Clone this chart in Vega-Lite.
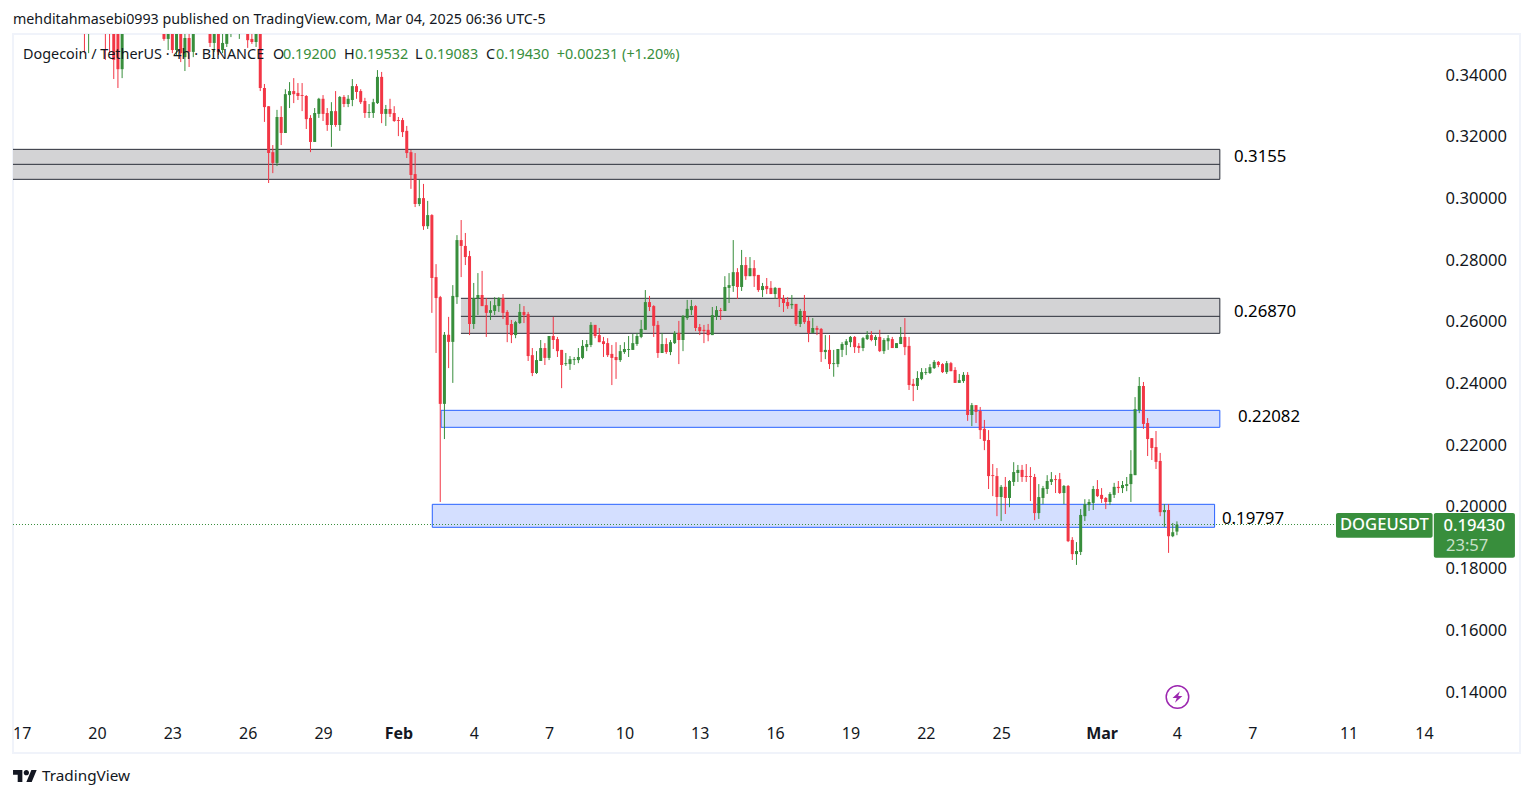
{"$schema":"https://vega.github.io/schema/vega-lite/v6.json","autosize":{"type":"none"},"padding":{"left":13,"top":34,"right":13,"bottom":45},"width":1507,"height":719,"background":"#ffffff","view":{"stroke":"#f0f3fa","strokeWidth":2},
"config":{"axisY":{"orient":"right","offset":-75,"domain":false,"ticks":false,"grid":false,"labelPadding":0,"labelFont":"Noto Sans","labelFontSize":16.6,"labelColor":"#131722","labelAlign":"left","labelBaseline":"middle","format":".5f","title":null}},
"datasets":{"candles":[
{"t":"2025-01-19T12:00Z","o":0.359,"h":0.36,"l":0.347,"c":0.356},
{"t":"2025-01-19T16:00Z","o":0.356,"h":0.36,"l":0.3471,"c":0.359},
{"t":"2025-01-20T08:00Z","o":0.358,"h":0.36,"l":0.3449,"c":0.355},
{"t":"2025-01-20T12:00Z","o":0.358,"h":0.36,"l":0.3471,"c":0.355},
{"t":"2025-01-20T16:00Z","o":0.355,"h":0.358,"l":0.3387,"c":0.3449},
{"t":"2025-01-20T20:00Z","o":0.355,"h":0.356,"l":0.3358,"c":0.3419},
{"t":"2025-01-21T00:00Z","o":0.3419,"h":0.357,"l":0.339,"c":0.355},
{"t":"2025-01-22T16:00Z","o":0.356,"h":0.357,"l":0.3511,"c":0.3517},
{"t":"2025-01-22T20:00Z","o":0.3517,"h":0.357,"l":0.3481,"c":0.356},
{"t":"2025-01-23T00:00Z","o":0.356,"h":0.357,"l":0.3471,"c":0.3481},
{"t":"2025-01-23T04:00Z","o":0.3481,"h":0.357,"l":0.3465,"c":0.356},
{"t":"2025-01-23T08:00Z","o":0.356,"h":0.357,"l":0.3442,"c":0.3471},
{"t":"2025-01-23T12:00Z","o":0.3458,"h":0.356,"l":0.3413,"c":0.352},
{"t":"2025-01-23T16:00Z","o":0.352,"h":0.355,"l":0.3426,"c":0.3475},
{"t":"2025-01-23T20:00Z","o":0.3475,"h":0.357,"l":0.3458,"c":0.356},
{"t":"2025-01-24T12:00Z","o":0.356,"h":0.357,"l":0.3491,"c":0.3504},
{"t":"2025-01-24T16:00Z","o":0.3504,"h":0.357,"l":0.3475,"c":0.356},
{"t":"2025-01-24T20:00Z","o":0.356,"h":0.357,"l":0.3465,"c":0.3475},
{"t":"2025-01-25T00:00Z","o":0.3481,"h":0.354,"l":0.3471,"c":0.3504},
{"t":"2025-01-25T04:00Z","o":0.3501,"h":0.357,"l":0.3491,"c":0.356},
{"t":"2025-01-25T08:00Z","o":0.355,"h":0.357,"l":0.3523,"c":0.356},
{"t":"2025-01-25T16:00Z","o":0.355,"h":0.357,"l":0.3517,"c":0.356},
{"t":"2025-01-26T00:00Z","o":0.356,"h":0.357,"l":0.3488,"c":0.3513},
{"t":"2025-01-26T04:00Z","o":0.3517,"h":0.354,"l":0.3501,"c":0.3507},
{"t":"2025-01-26T08:00Z","o":0.3507,"h":0.357,"l":0.3491,"c":0.356},
{"t":"2025-01-26T12:00Z","o":0.356,"h":0.357,"l":0.3348,"c":0.3358},
{"t":"2025-01-26T16:00Z","o":0.3358,"h":0.3371,"l":0.3248,"c":0.3296},
{"t":"2025-01-26T20:00Z","o":0.3299,"h":0.3299,"l":0.305,"c":0.3147},
{"t":"2025-01-27T00:00Z","o":0.315,"h":0.3173,"l":0.3082,"c":0.3115},
{"t":"2025-01-27T04:00Z","o":0.3115,"h":0.3287,"l":0.3105,"c":0.3264},
{"t":"2025-01-27T08:00Z","o":0.3264,"h":0.3299,"l":0.3173,"c":0.3212},
{"t":"2025-01-27T12:00Z","o":0.3212,"h":0.3354,"l":0.3212,"c":0.3338},
{"t":"2025-01-27T16:00Z","o":0.3335,"h":0.3377,"l":0.3293,"c":0.3348},
{"t":"2025-01-27T20:00Z","o":0.3348,"h":0.339,"l":0.3309,"c":0.3338},
{"t":"2025-01-28T00:00Z","o":0.3342,"h":0.3374,"l":0.3319,"c":0.3332},
{"t":"2025-01-28T04:00Z","o":0.3335,"h":0.3374,"l":0.3283,"c":0.3332},
{"t":"2025-01-28T08:00Z","o":0.3332,"h":0.3335,"l":0.3225,"c":0.3257},
{"t":"2025-01-28T12:00Z","o":0.3261,"h":0.327,"l":0.315,"c":0.3183},
{"t":"2025-01-28T16:00Z","o":0.3183,"h":0.3293,"l":0.3183,"c":0.3277},
{"t":"2025-01-28T20:00Z","o":0.3274,"h":0.3326,"l":0.3261,"c":0.3323},
{"t":"2025-01-29T00:00Z","o":0.3323,"h":0.3335,"l":0.3251,"c":0.3274},
{"t":"2025-01-29T04:00Z","o":0.3277,"h":0.3293,"l":0.3219,"c":0.3238},
{"t":"2025-01-29T08:00Z","o":0.3238,"h":0.3312,"l":0.3167,"c":0.3283},
{"t":"2025-01-29T12:00Z","o":0.3283,"h":0.3348,"l":0.3232,"c":0.3238},
{"t":"2025-01-29T16:00Z","o":0.3238,"h":0.3332,"l":0.3219,"c":0.3329},
{"t":"2025-01-29T20:00Z","o":0.3329,"h":0.3335,"l":0.3296,"c":0.3306},
{"t":"2025-01-30T00:00Z","o":0.3306,"h":0.3335,"l":0.3296,"c":0.3323},
{"t":"2025-01-30T04:00Z","o":0.3319,"h":0.3387,"l":0.3299,"c":0.3364},
{"t":"2025-01-30T08:00Z","o":0.3364,"h":0.3371,"l":0.3323,"c":0.3345},
{"t":"2025-01-30T12:00Z","o":0.3348,"h":0.3354,"l":0.3306,"c":0.3312},
{"t":"2025-01-30T16:00Z","o":0.3316,"h":0.3326,"l":0.3261,"c":0.3277},
{"t":"2025-01-30T20:00Z","o":0.3277,"h":0.3306,"l":0.3261,"c":0.328},
{"t":"2025-01-31T00:00Z","o":0.3277,"h":0.3323,"l":0.3261,"c":0.3312},
{"t":"2025-01-31T04:00Z","o":0.3309,"h":0.3416,"l":0.3306,"c":0.3394},
{"t":"2025-01-31T08:00Z","o":0.3394,"h":0.341,"l":0.3244,"c":0.3274},
{"t":"2025-01-31T12:00Z","o":0.3274,"h":0.3303,"l":0.3235,"c":0.329},
{"t":"2025-01-31T16:00Z","o":0.329,"h":0.3323,"l":0.3264,"c":0.3274},
{"t":"2025-01-31T20:00Z","o":0.3277,"h":0.3299,"l":0.3248,"c":0.3251},
{"t":"2025-02-01T00:00Z","o":0.3254,"h":0.3264,"l":0.3202,"c":0.3251},
{"t":"2025-02-01T04:00Z","o":0.3254,"h":0.3261,"l":0.3199,"c":0.3215},
{"t":"2025-02-01T08:00Z","o":0.3219,"h":0.3235,"l":0.3131,"c":0.3147},
{"t":"2025-02-01T12:00Z","o":0.315,"h":0.3157,"l":0.3031,"c":0.3076},
{"t":"2025-02-01T16:00Z","o":0.3079,"h":0.3147,"l":0.2972,"c":0.2982},
{"t":"2025-02-01T20:00Z","o":0.2982,"h":0.306,"l":0.2975,"c":0.3001},
{"t":"2025-02-02T00:00Z","o":0.3001,"h":0.3047,"l":0.2898,"c":0.291},
{"t":"2025-02-02T04:00Z","o":0.291,"h":0.2992,"l":0.2901,"c":0.2946},
{"t":"2025-02-02T08:00Z","o":0.2946,"h":0.2949,"l":0.2629,"c":0.2742},
{"t":"2025-02-02T12:00Z","o":0.2745,"h":0.2787,"l":0.2499,"c":0.2677},
{"t":"2025-02-02T16:00Z","o":0.268,"h":0.2684,"l":0.2016,"c":0.2334},
{"t":"2025-02-02T20:00Z","o":0.2334,"h":0.2567,"l":0.222,"c":0.2558},
{"t":"2025-02-03T00:00Z","o":0.2558,"h":0.2616,"l":0.245,"c":0.2535},
{"t":"2025-02-03T04:00Z","o":0.2535,"h":0.2719,"l":0.2402,"c":0.2684},
{"t":"2025-02-03T08:00Z","o":0.268,"h":0.2881,"l":0.2658,"c":0.2865},
{"t":"2025-02-03T12:00Z","o":0.2865,"h":0.293,"l":0.2745,"c":0.2846},
{"t":"2025-02-03T16:00Z","o":0.2846,"h":0.2888,"l":0.2784,"c":0.281},
{"t":"2025-02-03T20:00Z","o":0.2813,"h":0.283,"l":0.2557,"c":0.2593},
{"t":"2025-02-04T00:00Z","o":0.2593,"h":0.2726,"l":0.2577,"c":0.2677},
{"t":"2025-02-04T04:00Z","o":0.2677,"h":0.2758,"l":0.2622,"c":0.2687},
{"t":"2025-02-04T08:00Z","o":0.2687,"h":0.2765,"l":0.2651,"c":0.2651},
{"t":"2025-02-04T12:00Z","o":0.2654,"h":0.2677,"l":0.2551,"c":0.2629},
{"t":"2025-02-04T16:00Z","o":0.2629,"h":0.2667,"l":0.2606,"c":0.2638},
{"t":"2025-02-04T20:00Z","o":0.2635,"h":0.268,"l":0.2622,"c":0.2654},
{"t":"2025-02-05T00:00Z","o":0.2651,"h":0.268,"l":0.2632,"c":0.2677},
{"t":"2025-02-05T04:00Z","o":0.2677,"h":0.269,"l":0.2609,"c":0.2629},
{"t":"2025-02-05T08:00Z","o":0.2632,"h":0.2638,"l":0.2534,"c":0.259},
{"t":"2025-02-05T12:00Z","o":0.2593,"h":0.2606,"l":0.2531,"c":0.2557},
{"t":"2025-02-05T16:00Z","o":0.2557,"h":0.2603,"l":0.2547,"c":0.2599},
{"t":"2025-02-05T20:00Z","o":0.2596,"h":0.2658,"l":0.2593,"c":0.2632},
{"t":"2025-02-06T00:00Z","o":0.2632,"h":0.2651,"l":0.2596,"c":0.2622},
{"t":"2025-02-06T04:00Z","o":0.2625,"h":0.2632,"l":0.2473,"c":0.2489},
{"t":"2025-02-06T08:00Z","o":0.2492,"h":0.2515,"l":0.2424,"c":0.2434},
{"t":"2025-02-06T12:00Z","o":0.2434,"h":0.2505,"l":0.2431,"c":0.2476},
{"t":"2025-02-06T16:00Z","o":0.2473,"h":0.2541,"l":0.2473,"c":0.2515},
{"t":"2025-02-06T20:00Z","o":0.2515,"h":0.2531,"l":0.246,"c":0.2483},
{"t":"2025-02-07T00:00Z","o":0.2483,"h":0.2554,"l":0.2476,"c":0.2554},
{"t":"2025-02-07T04:00Z","o":0.2554,"h":0.2616,"l":0.2512,"c":0.2541},
{"t":"2025-02-07T08:00Z","o":0.2544,"h":0.2551,"l":0.2486,"c":0.2505},
{"t":"2025-02-07T12:00Z","o":0.2509,"h":0.2509,"l":0.2385,"c":0.246},
{"t":"2025-02-07T16:00Z","o":0.2463,"h":0.2499,"l":0.2457,"c":0.2466},
{"t":"2025-02-07T20:00Z","o":0.2463,"h":0.2489,"l":0.2444,"c":0.2479},
{"t":"2025-02-08T00:00Z","o":0.2476,"h":0.2486,"l":0.246,"c":0.2479},
{"t":"2025-02-08T04:00Z","o":0.2476,"h":0.2515,"l":0.2466,"c":0.2486},
{"t":"2025-02-08T08:00Z","o":0.2483,"h":0.2541,"l":0.2479,"c":0.2522},
{"t":"2025-02-08T12:00Z","o":0.2518,"h":0.2541,"l":0.2505,"c":0.2528},
{"t":"2025-02-08T16:00Z","o":0.2525,"h":0.2599,"l":0.2518,"c":0.259},
{"t":"2025-02-08T20:00Z","o":0.259,"h":0.259,"l":0.2547,"c":0.2554},
{"t":"2025-02-09T00:00Z","o":0.2557,"h":0.258,"l":0.2534,"c":0.2534},
{"t":"2025-02-09T04:00Z","o":0.2537,"h":0.2551,"l":0.2486,"c":0.2528},
{"t":"2025-02-09T08:00Z","o":0.2531,"h":0.2547,"l":0.2486,"c":0.2492},
{"t":"2025-02-09T12:00Z","o":0.2496,"h":0.2525,"l":0.2395,"c":0.2483},
{"t":"2025-02-09T16:00Z","o":0.2486,"h":0.2534,"l":0.2415,"c":0.2476},
{"t":"2025-02-09T20:00Z","o":0.2476,"h":0.2525,"l":0.247,"c":0.2505},
{"t":"2025-02-10T00:00Z","o":0.2502,"h":0.2534,"l":0.2496,"c":0.2512},
{"t":"2025-02-10T04:00Z","o":0.2509,"h":0.2554,"l":0.2486,"c":0.2512},
{"t":"2025-02-10T08:00Z","o":0.2509,"h":0.2561,"l":0.2509,"c":0.2531},
{"t":"2025-02-10T12:00Z","o":0.2528,"h":0.2564,"l":0.2522,"c":0.2554},
{"t":"2025-02-10T16:00Z","o":0.2551,"h":0.2606,"l":0.2547,"c":0.2577},
{"t":"2025-02-10T20:00Z","o":0.2574,"h":0.2703,"l":0.2574,"c":0.2664},
{"t":"2025-02-11T00:00Z","o":0.2664,"h":0.2684,"l":0.2635,"c":0.2648},
{"t":"2025-02-11T04:00Z","o":0.2651,"h":0.2654,"l":0.2551,"c":0.2587},
{"t":"2025-02-11T08:00Z","o":0.259,"h":0.2603,"l":0.2483,"c":0.2499},
{"t":"2025-02-11T12:00Z","o":0.2499,"h":0.2564,"l":0.2499,"c":0.2528},
{"t":"2025-02-11T16:00Z","o":0.2528,"h":0.2547,"l":0.2496,"c":0.2502},
{"t":"2025-02-11T20:00Z","o":0.2502,"h":0.2541,"l":0.2492,"c":0.2534},
{"t":"2025-02-12T00:00Z","o":0.2531,"h":0.257,"l":0.2528,"c":0.2564},
{"t":"2025-02-12T04:00Z","o":0.2564,"h":0.2603,"l":0.2463,"c":0.2541},
{"t":"2025-02-12T08:00Z","o":0.2541,"h":0.2622,"l":0.2505,"c":0.2619},
{"t":"2025-02-12T12:00Z","o":0.2612,"h":0.2671,"l":0.2606,"c":0.2642},
{"t":"2025-02-12T16:00Z","o":0.2638,"h":0.2671,"l":0.2622,"c":0.2651},
{"t":"2025-02-12T20:00Z","o":0.2651,"h":0.2654,"l":0.257,"c":0.258},
{"t":"2025-02-13T00:00Z","o":0.2583,"h":0.2593,"l":0.2557,"c":0.257},
{"t":"2025-02-13T04:00Z","o":0.2574,"h":0.259,"l":0.2531,"c":0.257},
{"t":"2025-02-13T08:00Z","o":0.2574,"h":0.2593,"l":0.2537,"c":0.2557},
{"t":"2025-02-13T12:00Z","o":0.2557,"h":0.2648,"l":0.2557,"c":0.2622},
{"t":"2025-02-13T16:00Z","o":0.2616,"h":0.2651,"l":0.2606,"c":0.2638},
{"t":"2025-02-13T20:00Z","o":0.2638,"h":0.2645,"l":0.2606,"c":0.2635},
{"t":"2025-02-14T00:00Z","o":0.2635,"h":0.2748,"l":0.2635,"c":0.2713},
{"t":"2025-02-14T04:00Z","o":0.271,"h":0.2758,"l":0.2661,"c":0.2719},
{"t":"2025-02-14T08:00Z","o":0.2716,"h":0.2865,"l":0.2697,"c":0.2761},
{"t":"2025-02-14T12:00Z","o":0.2761,"h":0.2774,"l":0.2674,"c":0.2713},
{"t":"2025-02-14T16:00Z","o":0.2713,"h":0.2833,"l":0.27,"c":0.2784},
{"t":"2025-02-14T20:00Z","o":0.2784,"h":0.281,"l":0.2736,"c":0.2748},
{"t":"2025-02-15T00:00Z","o":0.2748,"h":0.281,"l":0.2748,"c":0.2774},
{"t":"2025-02-15T04:00Z","o":0.2774,"h":0.28,"l":0.2713,"c":0.2748},
{"t":"2025-02-15T08:00Z","o":0.2752,"h":0.2752,"l":0.2697,"c":0.2703},
{"t":"2025-02-15T12:00Z","o":0.2703,"h":0.2726,"l":0.268,"c":0.2716},
{"t":"2025-02-15T16:00Z","o":0.2716,"h":0.2742,"l":0.269,"c":0.2706},
{"t":"2025-02-15T20:00Z","o":0.271,"h":0.2732,"l":0.269,"c":0.269},
{"t":"2025-02-16T00:00Z","o":0.269,"h":0.2713,"l":0.2674,"c":0.271},
{"t":"2025-02-16T04:00Z","o":0.271,"h":0.271,"l":0.2648,"c":0.2674},
{"t":"2025-02-16T08:00Z","o":0.2677,"h":0.2687,"l":0.2632,"c":0.2661},
{"t":"2025-02-16T12:00Z","o":0.2664,"h":0.268,"l":0.2642,"c":0.2651},
{"t":"2025-02-16T16:00Z","o":0.2654,"h":0.2687,"l":0.2642,"c":0.2658},
{"t":"2025-02-16T20:00Z","o":0.2658,"h":0.2658,"l":0.2587,"c":0.2593},
{"t":"2025-02-17T00:00Z","o":0.2593,"h":0.2642,"l":0.2583,"c":0.2635},
{"t":"2025-02-17T04:00Z","o":0.2635,"h":0.2687,"l":0.2593,"c":0.2599},
{"t":"2025-02-17T08:00Z","o":0.2603,"h":0.2616,"l":0.2534,"c":0.2564},
{"t":"2025-02-17T12:00Z","o":0.2564,"h":0.2612,"l":0.2564,"c":0.258},
{"t":"2025-02-17T16:00Z","o":0.258,"h":0.2587,"l":0.2557,"c":0.2574},
{"t":"2025-02-17T20:00Z","o":0.2577,"h":0.258,"l":0.247,"c":0.2502},
{"t":"2025-02-18T00:00Z","o":0.2502,"h":0.2557,"l":0.2479,"c":0.2509},
{"t":"2025-02-18T04:00Z","o":0.2509,"h":0.2557,"l":0.2447,"c":0.2463},
{"t":"2025-02-18T08:00Z","o":0.2463,"h":0.2509,"l":0.2422,"c":0.2466},
{"t":"2025-02-18T12:00Z","o":0.2463,"h":0.2512,"l":0.2453,"c":0.2512},
{"t":"2025-02-18T16:00Z","o":0.2509,"h":0.2534,"l":0.2486,"c":0.2528},
{"t":"2025-02-18T20:00Z","o":0.2525,"h":0.2544,"l":0.2492,"c":0.2537},
{"t":"2025-02-19T00:00Z","o":0.2534,"h":0.2554,"l":0.2518,"c":0.2551},
{"t":"2025-02-19T04:00Z","o":0.2551,"h":0.2554,"l":0.2499,"c":0.2518},
{"t":"2025-02-19T08:00Z","o":0.2522,"h":0.2531,"l":0.2499,"c":0.2515},
{"t":"2025-02-19T12:00Z","o":0.2515,"h":0.2551,"l":0.2505,"c":0.2547},
{"t":"2025-02-19T16:00Z","o":0.2544,"h":0.257,"l":0.2541,"c":0.2557},
{"t":"2025-02-19T20:00Z","o":0.2557,"h":0.257,"l":0.2537,"c":0.2541},
{"t":"2025-02-20T00:00Z","o":0.2541,"h":0.2557,"l":0.2522,"c":0.2551},
{"t":"2025-02-20T04:00Z","o":0.2551,"h":0.2574,"l":0.2502,"c":0.2505},
{"t":"2025-02-20T08:00Z","o":0.2505,"h":0.2547,"l":0.2496,"c":0.2541},
{"t":"2025-02-20T12:00Z","o":0.2537,"h":0.2557,"l":0.2509,"c":0.2547},
{"t":"2025-02-20T16:00Z","o":0.2544,"h":0.2551,"l":0.2515,"c":0.2515},
{"t":"2025-02-20T20:00Z","o":0.2515,"h":0.2531,"l":0.2515,"c":0.2531},
{"t":"2025-02-21T00:00Z","o":0.2528,"h":0.2583,"l":0.2528,"c":0.2551},
{"t":"2025-02-21T04:00Z","o":0.2551,"h":0.2612,"l":0.2492,"c":0.2518},
{"t":"2025-02-21T08:00Z","o":0.2522,"h":0.2551,"l":0.2379,"c":0.2395},
{"t":"2025-02-21T12:00Z","o":0.2399,"h":0.2415,"l":0.2343,"c":0.2392},
{"t":"2025-02-21T16:00Z","o":0.2392,"h":0.244,"l":0.2379,"c":0.2418},
{"t":"2025-02-21T20:00Z","o":0.2415,"h":0.245,"l":0.2411,"c":0.2437},
{"t":"2025-02-22T00:00Z","o":0.2434,"h":0.245,"l":0.2428,"c":0.2437},
{"t":"2025-02-22T04:00Z","o":0.2434,"h":0.2463,"l":0.2431,"c":0.2453},
{"t":"2025-02-22T08:00Z","o":0.245,"h":0.2476,"l":0.2447,"c":0.247},
{"t":"2025-02-22T12:00Z","o":0.247,"h":0.2473,"l":0.2453,"c":0.246},
{"t":"2025-02-22T16:00Z","o":0.2463,"h":0.2466,"l":0.2434,"c":0.2437},
{"t":"2025-02-22T20:00Z","o":0.2437,"h":0.2473,"l":0.2431,"c":0.2466},
{"t":"2025-02-23T00:00Z","o":0.2466,"h":0.247,"l":0.244,"c":0.244},
{"t":"2025-02-23T04:00Z","o":0.2444,"h":0.2453,"l":0.2402,"c":0.2402},
{"t":"2025-02-23T08:00Z","o":0.2402,"h":0.2431,"l":0.2402,"c":0.2411},
{"t":"2025-02-23T12:00Z","o":0.2408,"h":0.2437,"l":0.2402,"c":0.2428},
{"t":"2025-02-23T16:00Z","o":0.2428,"h":0.2437,"l":0.2279,"c":0.2298},
{"t":"2025-02-23T20:00Z","o":0.2298,"h":0.2337,"l":0.2262,"c":0.233},
{"t":"2025-02-24T00:00Z","o":0.233,"h":0.233,"l":0.2272,"c":0.2308},
{"t":"2025-02-24T04:00Z","o":0.2311,"h":0.2324,"l":0.222,"c":0.2249},
{"t":"2025-02-24T08:00Z","o":0.2253,"h":0.2282,"l":0.2184,"c":0.2214},
{"t":"2025-02-24T12:00Z","o":0.2217,"h":0.2249,"l":0.2058,"c":0.21},
{"t":"2025-02-24T16:00Z","o":0.2103,"h":0.2139,"l":0.2035,"c":0.21},
{"t":"2025-02-24T20:00Z","o":0.21,"h":0.2126,"l":0.197,"c":0.2032},
{"t":"2025-02-25T00:00Z","o":0.2032,"h":0.2071,"l":0.1954,"c":0.2065},
{"t":"2025-02-25T04:00Z","o":0.2065,"h":0.2097,"l":0.1977,"c":0.2029},
{"t":"2025-02-25T08:00Z","o":0.2029,"h":0.2087,"l":0.1999,"c":0.2084},
{"t":"2025-02-25T12:00Z","o":0.2081,"h":0.2145,"l":0.2068,"c":0.2113},
{"t":"2025-02-25T16:00Z","o":0.211,"h":0.2136,"l":0.2081,"c":0.212},
{"t":"2025-02-25T20:00Z","o":0.212,"h":0.2136,"l":0.2081,"c":0.2097},
{"t":"2025-02-26T00:00Z","o":0.21,"h":0.2139,"l":0.2081,"c":0.2097},
{"t":"2025-02-26T04:00Z","o":0.21,"h":0.2129,"l":0.2019,"c":0.2097},
{"t":"2025-02-26T08:00Z","o":0.2097,"h":0.2107,"l":0.1957,"c":0.198},
{"t":"2025-02-26T12:00Z","o":0.198,"h":0.2074,"l":0.1961,"c":0.2032},
{"t":"2025-02-26T16:00Z","o":0.2029,"h":0.2068,"l":0.2009,"c":0.2061},
{"t":"2025-02-26T20:00Z","o":0.2058,"h":0.2103,"l":0.2042,"c":0.2084},
{"t":"2025-02-27T00:00Z","o":0.2081,"h":0.2113,"l":0.2071,"c":0.209},
{"t":"2025-02-27T04:00Z","o":0.209,"h":0.2103,"l":0.2045,"c":0.2087},
{"t":"2025-02-27T08:00Z","o":0.209,"h":0.211,"l":0.2042,"c":0.2045},
{"t":"2025-02-27T12:00Z","o":0.2045,"h":0.2071,"l":0.2009,"c":0.2068},
{"t":"2025-02-27T16:00Z","o":0.2068,"h":0.2071,"l":0.1886,"c":0.1889},
{"t":"2025-02-27T20:00Z","o":0.1893,"h":0.1902,"l":0.1828,"c":0.1847},
{"t":"2025-02-28T00:00Z","o":0.1847,"h":0.1886,"l":0.1812,"c":0.1857},
{"t":"2025-02-28T04:00Z","o":0.1854,"h":0.1993,"l":0.1844,"c":0.1974},
{"t":"2025-02-28T08:00Z","o":0.197,"h":0.2025,"l":0.1954,"c":0.2009},
{"t":"2025-02-28T12:00Z","o":0.2006,"h":0.2025,"l":0.1987,"c":0.2016},
{"t":"2025-02-28T16:00Z","o":0.2013,"h":0.2068,"l":0.199,"c":0.2058},
{"t":"2025-02-28T20:00Z","o":0.2058,"h":0.2087,"l":0.2032,"c":0.2035},
{"t":"2025-03-01T00:00Z","o":0.2039,"h":0.2061,"l":0.2013,"c":0.2026},
{"t":"2025-03-01T04:00Z","o":0.2029,"h":0.2032,"l":0.1993,"c":0.2016},
{"t":"2025-03-01T08:00Z","o":0.2016,"h":0.2048,"l":0.2006,"c":0.2042},
{"t":"2025-03-01T12:00Z","o":0.2039,"h":0.2078,"l":0.2029,"c":0.2065},
{"t":"2025-03-01T16:00Z","o":0.2065,"h":0.2084,"l":0.2045,"c":0.2061},
{"t":"2025-03-01T20:00Z","o":0.2061,"h":0.2084,"l":0.2045,"c":0.2071},
{"t":"2025-03-02T00:00Z","o":0.2068,"h":0.2097,"l":0.2051,"c":0.2074},
{"t":"2025-03-02T04:00Z","o":0.2074,"h":0.2184,"l":0.2016,"c":0.2107},
{"t":"2025-03-02T08:00Z","o":0.2103,"h":0.2356,"l":0.2103,"c":0.2317},
{"t":"2025-03-02T12:00Z","o":0.2314,"h":0.2421,"l":0.2304,"c":0.2392},
{"t":"2025-03-02T16:00Z","o":0.2392,"h":0.2405,"l":0.2253,"c":0.2269},
{"t":"2025-03-02T20:00Z","o":0.2272,"h":0.2288,"l":0.2165,"c":0.222},
{"t":"2025-03-03T00:00Z","o":0.2223,"h":0.2223,"l":0.2152,"c":0.2191},
{"t":"2025-03-03T04:00Z","o":0.2194,"h":0.2246,"l":0.2123,"c":0.2146},
{"t":"2025-03-03T08:00Z","o":0.2149,"h":0.2175,"l":0.197,"c":0.1983},
{"t":"2025-03-03T12:00Z","o":0.1983,"h":0.2009,"l":0.1935,"c":0.199},
{"t":"2025-03-03T16:00Z","o":0.199,"h":0.2009,"l":0.1851,"c":0.1905},
{"t":"2025-03-03T20:00Z","o":0.1905,"h":0.1948,"l":0.1902,"c":0.1918},
{"t":"2025-03-04T00:00Z","o":0.192,"h":0.19532,"l":0.19083,"c":0.1943}
],
"gray":[{"t":"2025-01-16T15:43Z","t2":"2025-03-05T17:00Z","p":0.31591,"p2":0.30619},{"t":"2025-02-03T11:45Z","t2":"2025-03-05T17:00Z","p":0.26762,"p2":0.25627}],
"grayLines":[{"t":"2025-01-16T15:43Z","t2":"2025-03-05T17:00Z","p":0.31591},{"t":"2025-01-16T15:43Z","t2":"2025-03-05T17:00Z","p":0.31105},{"t":"2025-01-16T15:43Z","t2":"2025-03-05T17:00Z","p":0.30619},{"t":"2025-02-03T11:45Z","t2":"2025-03-05T17:00Z","p":0.26762},{"t":"2025-02-03T11:45Z","t2":"2025-03-05T17:00Z","p":0.26178},{"t":"2025-02-03T11:45Z","t2":"2025-03-05T17:00Z","p":0.25627}],
"grayEdges":[{"t":"2025-03-05T17:00Z","p":0.31591,"p2":0.30619},{"t":"2025-03-05T17:00Z","p":0.26762,"p2":0.25627}],
"blue":[{"t":"2025-02-02T16:48Z","t2":"2025-03-05T17:00Z","p":0.23131,"p2":0.2258},{"t":"2025-02-02T08:24Z","t2":"2025-03-05T12:00Z","p":0.20084,"p2":0.19339}]
},
"encoding":{
"x":{"field":"t","type":"temporal","title":null,"scale":{"type":"utc","padding":0,"domain":[1737042192000,1742226624000]},"axis":{"orient":"bottom","offset":-20,"domain":false,"ticks":false,"grid":false,"labelPadding":0,"labelBaseline":"middle","labelFont":"Noto Sans","labelFontSize":16,"labelColor":"#131722","labelOverlap":false,"labelBound":false,"labelFlush":false,"values":[1737072000000,1737331200000,1737590400000,1737849600000,1738108800000,1738368000000,1738627200000,1738886400000,1739145600000,1739404800000,1739664000000,1739923200000,1740182400000,1740441600000,1740787200000,1741046400000,1741305600000,1741636800000,1741896000000],"labelExpr":"utcdate(time(datum.value)+14400000)==1 ? utcFormat(time(datum.value),'%b') : ''+utcdate(time(datum.value)+14400000)","labelFontWeight":{"condition":{"test":"utcdate(time(datum.value)+14400000)==1","value":"bold"},"value":"normal"}}},
"y":{"field":"p","type":"quantitative","title":null,"scale":{"domain":[0.12023,0.3533],"zero":false,"nice":false},"axis":{"values":[0.14,0.16,0.18,0.2,0.22,0.24,0.26,0.28,0.3,0.32,0.34]}}
},
"layer":[
{"data":{"name":"gray"},"mark":{"type":"rect","fill":"#d3d3d5"},"encoding":{"x2":{"field":"t2"},"y2":{"field":"p2"}}},
{"data":{"name":"grayLines"},"mark":{"type":"rule","stroke":"#2a2e39","strokeWidth":1},"encoding":{"x2":{"field":"t2"}}},
{"data":{"name":"grayEdges"},"mark":{"type":"rule","stroke":"#2a2e39","strokeWidth":1},"encoding":{"y2":{"field":"p2"}}},
{"data":{"name":"blue"},"mark":{"type":"rect","fill":"#d4dfff","stroke":"#2962ff","strokeWidth":1},"encoding":{"x2":{"field":"t2"},"y2":{"field":"p2"}}},
{"data":{"values":[{"t":"2025-01-16T15:43Z","t2":"2025-03-10T08:00Z","p":0.1943}]},"mark":{"type":"rule","stroke":"#388e3c","strokeWidth":1,"strokeDash":[1,2]},"encoding":{"x2":{"field":"t2"}}},
{"data":{"name":"candles"},"mark":{"type":"rule","strokeWidth":1,"clip":true},"encoding":{"y":{"field":"l","type":"quantitative","title":null,"axis":{"values":[0.14,0.16,0.18,0.2,0.22,0.24,0.26,0.28,0.3,0.32,0.34]},"scale":{"domain":[0.12023,0.3533],"zero":false,"nice":false}},"y2":{"field":"h"},"color":{"condition":{"test":"datum.c>=datum.o","value":"#388e3c"},"value":"#f23645"}}},
{"data":{"name":"candles"},"mark":{"type":"bar","size":3,"clip":true},"encoding":{"y":{"field":"o","type":"quantitative","title":null,"axis":{"values":[0.14,0.16,0.18,0.2,0.22,0.24,0.26,0.28,0.3,0.32,0.34]},"scale":{"domain":[0.12023,0.3533],"zero":false,"nice":false}},"y2":{"field":"c"},"color":{"condition":{"test":"datum.c>=datum.o","value":"#388e3c"},"value":"#f23645"}}},
{"data":{"values":[{"t":"2025-03-10T08:00Z","t2":"2025-03-14T04:19Z","p":0.19802,"p2":0.19001},{"t":"2025-03-14T05:30Z","t2":"2025-03-17T11:00Z","p":0.19802,"p2":0.18353}]},"mark":{"type":"rect","fill":"#388e3c","cornerRadius":2},"encoding":{"x2":{"field":"t2"},"y2":{"field":"p2"}}},
{"data":{"values":[{"t":"2025-03-12T06:14Z","p":0.19413,"label":"DOGEUSDT"},{"t":"2025-03-15T20:10Z","p":0.19381,"label":"0.19430"}]},"mark":{"type":"text","font":"Noto Sans","fontSize":16.6,"fontWeight":500,"color":"#ffffff","align":"center","baseline":"middle"},"encoding":{"text":{"field":"label"}}},
{"data":{"values":[{"t":"2025-03-14T17:02Z","p":0.18732,"label":"23:57"}]},"mark":{"type":"text","font":"Noto Sans","fontSize":16.6,"color":"#c8e0c9","align":"left","baseline":"middle"},"encoding":{"text":{"field":"label"}}},
{"data":{"values":[{"t":"2025-03-06T06:29Z","p":0.31342,"label":"0.3155"},{"t":"2025-03-06T06:29Z","p":0.26318,"label":"0.26870"},{"t":"2025-03-06T10:19Z","p":0.22914,"label":"0.22082"},{"t":"2025-03-05T19:00Z","p":0.19607,"label":"0.19797"}]},"mark":{"type":"text","font":"Noto Sans","fontSize":16.8,"color":"#000000","align":"left","baseline":"middle"},"encoding":{"text":{"field":"label"}}},
{"data":{"values":[{"t":"2025-01-16T15:43Z","p":0.3578,"label":"mehditahmasebi0993 published on TradingView.com, Mar 04, 2025 06:36 UTC-5"}]},"mark":{"type":"text","font":"Noto Sans","fontSize":14.25,"color":"#131722","align":"left","baseline":"middle"},"encoding":{"text":{"field":"label"}}},
{"data":{"values":[{"t":"2025-01-17T01:18Z","p":0.3465,"label":"Dogecoin / TetherUS · 4h · BINANCE"},{"t":"2025-01-27T00:10Z","p":0.3465,"label":"O"},{"t":"2025-01-29T20:01Z","p":0.3465,"label":"H"},{"t":"2025-02-01T15:50Z","p":0.3465,"label":"L"},{"t":"2025-02-04T11:46Z","p":0.3465,"label":"C"}]},"mark":{"type":"text","font":"Noto Sans","fontSize":14.4,"color":"#131722","align":"left","baseline":"middle"},"encoding":{"text":{"field":"label"}}},
{"data":{"values":[{"t":"2025-01-27T09:43Z","p":0.3465,"label":"0.19200"},{"t":"2025-01-30T06:32Z","p":0.3465,"label":"0.19532"},{"t":"2025-02-02T01:26Z","p":0.3465,"label":"0.19083"},{"t":"2025-02-04T21:22Z","p":0.3465,"label":"0.19430"},{"t":"2025-02-07T07:26Z","p":0.3465,"label":"+0.00231 (+1.20%)"}]},"mark":{"type":"text","font":"Noto Sans","fontSize":14.4,"color":"#388e3c","align":"left","baseline":"middle"},"encoding":{"text":{"field":"label"}}},
{"data":{"values":[{"t":"2025-01-17T19:26Z","p":0.11277,"label":"TradingView"}]},"mark":{"type":"text","font":"Noto Sans","fontSize":15.3,"color":"#131722","align":"left","baseline":"middle"},"encoding":{"text":{"field":"label"}}},
{"data":{"values":[{"t":"2025-01-17T03:13Z","p":0.11277}]},"mark":{"type":"point","filled":true,"color":"#131722","opacity":1,"size":576,"shape":"M-0.222 0.5H-0.611V-0.111H-1V-0.5H-0.222ZM0.556 0.5H0.111L0.528 -0.5H0.972ZM-0.111 -0.278a0.222 0.222 0 1 0 0.444 0a0.222 0.222 0 1 0 -0.444 0Z"}},
{"data":{"values":[{"t":"2025-03-04T00:30Z","p":0.13838}]},"mark":{"type":"point","filled":false,"stroke":"#9c27b0","strokeWidth":1.5,"opacity":1,"size":507,"shape":"circle"}},
{"data":{"values":[{"t":"2025-03-04T00:30Z","p":0.13838}]},"mark":{"type":"point","filled":true,"color":"#9c27b0","opacity":1,"size":200,"shape":"M0.35 -0.8L-0.7 0.15L-0.1 0.15L-0.35 0.8L0.7 -0.15L0.1 -0.15Z"}}
]}
